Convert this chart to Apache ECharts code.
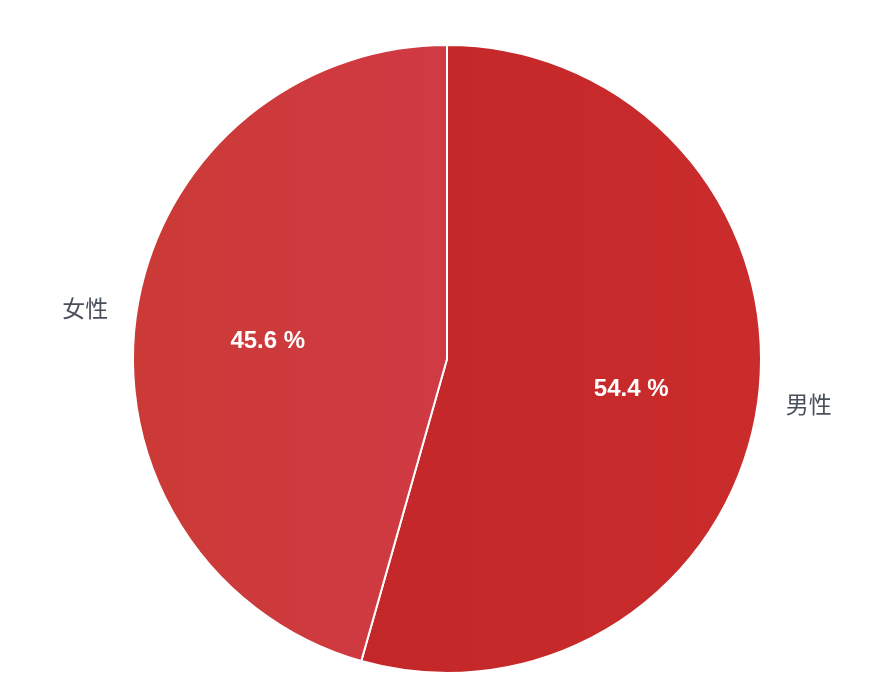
<!DOCTYPE html>
<html>
<head>
<meta charset="utf-8">
<script src="https://cdn.jsdelivr.net/npm/echarts@6/dist/echarts.min.js"></script>
<style>
html,body{margin:0;padding:0;background:#fff;}
#main{width:888px;height:698px;}
</style>
</head>
<body>
<div id="main"></div>
<script>
const categories = ['男性', '女性'];
const values = [54.4, 45.6];
const sliceColors = [
  ['#c42729', '#ca2c2c'],
  ['#cb3a36', '#d03a44']
];

const chart = echarts.init(document.getElementById('main'), null, {renderer: 'canvas'});
const grad = (c) => new echarts.graphic.LinearGradient(0, 0, 1, 0, [
  {offset: 0, color: c[0]}, {offset: 1, color: c[1]}
]);
const outerDy = [0, -5];
const innerDx = [0, 5];
const innerDy = [5, 8];
const mainData = categories.map((n, i) => ({
  name: n, value: values[i],
  itemStyle: {color: grad(sliceColors[i])}
}));
const innerData = categories.map((n, i) => ({name: n, value: values[i]}));

chart.setOption({
  animation: false,
  backgroundColor: '#ffffff',
  series: [
    {
      type: 'pie',
      center: [447, 359],
      radius: [0, 314],
      startAngle: 90,
      clockwise: true,
      silent: true,
      itemStyle: {borderColor: '#ffffff', borderWidth: 2},
      label: {
        show: true,
        position: 'outside',
        formatter: '{b}',
        color: '#4a4f5c',
        fontSize: 23,
        fontFamily: '"Noto Sans CJK SC", sans-serif'
      },
      labelLine: {show: false, length: 15, length2: 8},
      labelLayout: (p) => ({dy: outerDy[p.dataIndex]}),
      data: mainData
    },
    {
      type: 'pie',
      center: [447, 359],
      radius: [0, 366],
      startAngle: 90,
      clockwise: true,
      silent: true,
      itemStyle: {color: 'rgba(0,0,0,0)', borderWidth: 0},
      label: {
        show: true,
        position: 'inside',
        formatter: (p) => p.value.toFixed(1) + ' %',
        color: '#ffffff',
        fontSize: 24,
        fontWeight: 'bold',
        fontFamily: 'Liberation Sans, Arial, sans-serif'
      },
      labelLine: {show: false},
      labelLayout: (p) => ({dx: innerDx[p.dataIndex], dy: innerDy[p.dataIndex]}),
      data: innerData
    }
  ]
});
</script>
</body>
</html>
